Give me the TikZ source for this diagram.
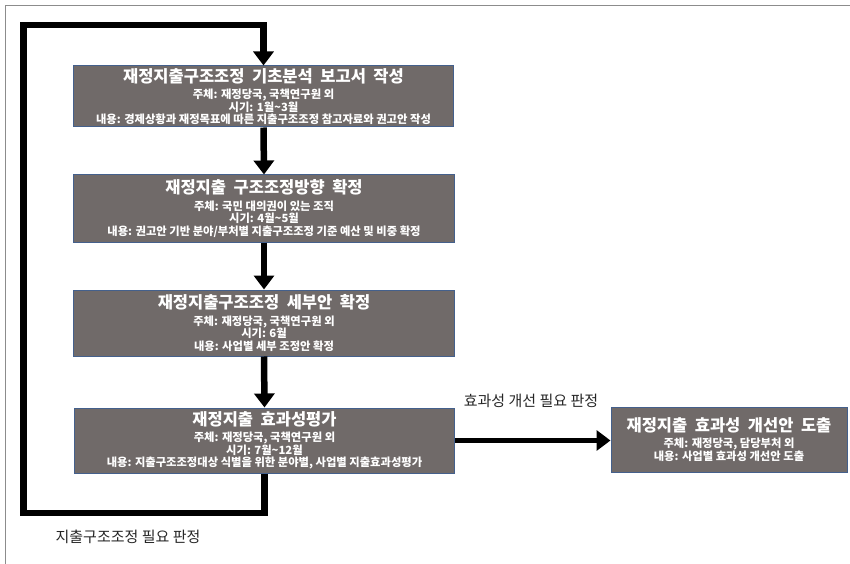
\documentclass[tikz,border=0pt]{standalone}
\usepackage{fontspec}
\setmainfont{Noto Sans CJK KR}
\usetikzlibrary{arrows.meta}
\definecolor{boxfill}{RGB}{112,106,105}
\definecolor{boxedge}{RGB}{68,96,140}
\definecolor{framegray}{RGB}{140,140,140}
\newcommand{\ttlfont}{\fontsize{16.5bp}{17bp}\selectfont}
\newcommand{\subfont}{\fontsize{11.3bp}{12.4bp}\selectfont}
\tikzset{
  stage/.style={draw=boxedge, line width=1bp, fill=boxfill, text=white, font=\bfseries\subfont,
    minimum width=380bp, inner sep=0pt, align=center},
  flow/.style={line width=6.5bp, -{Triangle[width=20bp,length=14bp]}, line join=miter},
  lbl/.style={font=\fontsize{15bp}{17bp}\selectfont, text=black!85}
}
\begin{document}
\begin{tikzpicture}[x=1bp,y=-1bp]
\useasboundingbox (0,0) rectangle (850,564);
\fill[white] (0,0) rectangle (850,564);
\draw[framegray, line width=1.5bp] (5.5,564) -- (5.5,5.5) -- (850,5.5);

\node[stage, minimum height=61bp] (b1) at (263.5,96.5)
  {{\ttlfont 재정지출구조조정 \ 기초분석 \ 보고서 \ 작성}\\[4bp]
   주체: 재정당국, 국책연구원 외\\
   시기: 1월\textasciitilde 3월\\
   내용: 경제상황과 재정목표에 따른 지출구조조정 참고자료와 권고안 작성};
\node[stage, minimum height=67bp] (b2) at (264,208.5)
  {{\ttlfont 재정지출 \ 구조조정방향 \ 확정}\\[4bp]
   주체: 국민 대의권이 있는 조직\\
   시기: 4월\textasciitilde 5월\\
   내용: 권고안 기반 분야/부처별 지출구조조정 기준 예산 및 비중 확정};
\node[stage, minimum height=66bp] (b3) at (264,323)
  {{\ttlfont 재정지출구조조정 \ 세부안 \ 확정}\\[4bp]
   주체: 재정당국, 국책연구원 외\\
   시기: 6월\\
   내용: 사업별 세부 조정안 확정};
\node[stage, minimum height=65bp] (b4) at (264.5,440.5)
  {{\ttlfont 재정지출 \ 효과성평가}\\[4bp]
   주체: 재정당국, 국책연구원 외\\
   시기: 7월\textasciitilde 12월\\
   내용: 지출구조조정대상 식별을 위한 분야별, 사업별 지출효과성평가};
\node[stage, minimum width=236bp, minimum height=65bp] (b5) at (729,439.5)
  {{\ttlfont 재정지출 \ 효과성 \ 개선안 \ 도출}\\[4bp]
   주체: 재정당국, 담당부처 외\\
   내용: 사업별 효과성 개선안 도출};

\coordinate (cbl) at (23.5,513);
\coordinate (ctl) at (23.5,25);

\draw[flow] (b1.south) -- (b2.north);
\draw[flow] (b2.south) -- (b3.north);
\draw[flow] (b3.south) -- (b4.north);
\draw[flow, line width=5.5bp] (b4.east |- 0,440.5) -- (b5.west |- 0,440.5);
\draw[flow] (b4.south) |- (cbl) -- (ctl) -| (b1.north);

\node[lbl] (l1) at (531,401) {효과성 개선 필요 판정};
\node[lbl] (l2) at (128,537) {지출구조조정 필요 판정};
\end{tikzpicture}
\end{document}
